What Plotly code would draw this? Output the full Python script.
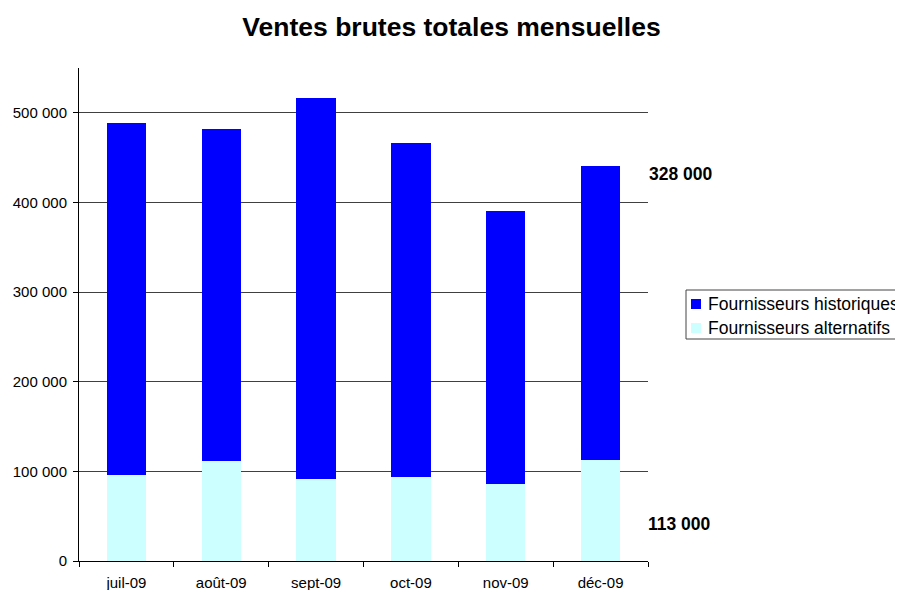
import plotly.graph_objects as go

months = ["juil-09", "août-09", "sept-09", "oct-09", "nov-09", "déc-09"]
alternatifs = [96500, 112000, 92000, 94000, 85500, 113000]
historiques = [392500, 370500, 425000, 372000, 304500, 328000]
y_tickvals = [0, 100000, 200000, 300000, 400000, 500000]
y_ticktext = ["0", "100 000", "200 000", "300 000", "400 000", "500 000"]
label_hist = "328 000"
label_alt = "113 000"
series_names = ["Fournisseurs historiques", "Fournisseurs alternatifs"]
series_colors = ["#0000FF", "#CCFFFF"]

FONT = "Arial, 'Liberation Sans', sans-serif"

# page is rendered with an 8px body margin; figure fills the rest of the window
W, H = 895, 582
L, R, T, B = 71, 255, 60, 29
PW, PH = W - L - R, H - T - B


def px(xp):  # page x pixel -> paper x
    return (xp - 8 - L) / PW


def py(yp):  # page y pixel -> paper y
    return (H - B - (yp - 8)) / PH


fig = go.Figure()
fig.add_trace(go.Bar(x=months, y=alternatifs, name=series_names[1],
                     marker=dict(color=series_colors[1], line=dict(width=0))))
fig.add_trace(go.Bar(x=months, y=historiques, name=series_names[0],
                     marker=dict(color=series_colors[0], line=dict(width=0))))

fig.update_layout(
    width=W, height=H,
    barmode="stack", bargap=0.585,
    paper_bgcolor="white", plot_bgcolor="white",
    margin=dict(l=L, r=R, t=T, b=B, autoexpand=False),
    font=dict(family=FONT, size=15, color="black"),
    title=dict(text="<b>Ventes brutes totales mensuelles</b>", x=(451.5 - 8) / W, xref="container",
               xanchor="center", y=1 - 19 / H, yref="container", yanchor="middle",
               font=dict(family=FONT, size=26.5, color="black")),
    showlegend=False,
)
fig.update_xaxes(showline=True, linecolor="black", linewidth=1, automargin=False,
                 ticks="outside", tickson="boundaries", ticklen=5, tickcolor="black",
                 showgrid=False, tickfont=dict(size=15), ticklabelstandoff=8)
fig.update_yaxes(range=[0, 550000], showline=True, linecolor="black", linewidth=1,
                 automargin=False,
                 ticks="outside", ticklen=5, tickcolor="black",
                 tickvals=y_tickvals, ticktext=y_ticktext,
                 showgrid=True, gridcolor="#404040", gridwidth=1,
                 zeroline=False, tickfont=dict(size=15), ticklabelstandoff=3)

fig.add_annotation(text="<b>" + label_hist + "</b>", xref="paper", yref="paper",
                   x=px(647), y=py(174), xanchor="left", yanchor="middle", showarrow=False,
                   font=dict(family=FONT, size=17.5, color="black"))
fig.add_annotation(text="<b>" + label_alt + "</b>", xref="paper", yref="paper",
                   x=px(646), y=py(524), xanchor="left", yanchor="middle", showarrow=False,
                   font=dict(family=FONT, size=17.5, color="black"))

# legend box
fig.add_shape(type="rect", xref="paper", yref="paper",
              x0=px(686), x1=px(960), y0=py(339), y1=py(290),
              line=dict(color="#444444", width=1), fillcolor="white", layer="above")
for i, (name, col) in enumerate(zip(series_names, series_colors)):
    yc = 304 + 24 * i
    fig.add_shape(type="rect", xref="paper", yref="paper",
                  x0=px(691), x1=px(701), y0=py(yc + 5), y1=py(yc - 5),
                  line=dict(width=0), fillcolor=col, layer="above")
    fig.add_annotation(text=name, xref="paper", yref="paper", x=px(706), y=py(yc),
                       xanchor="left", yanchor="middle", showarrow=False,
                       font=dict(family=FONT, size=17.5, color="black"))

fig.write_html("out.html")
